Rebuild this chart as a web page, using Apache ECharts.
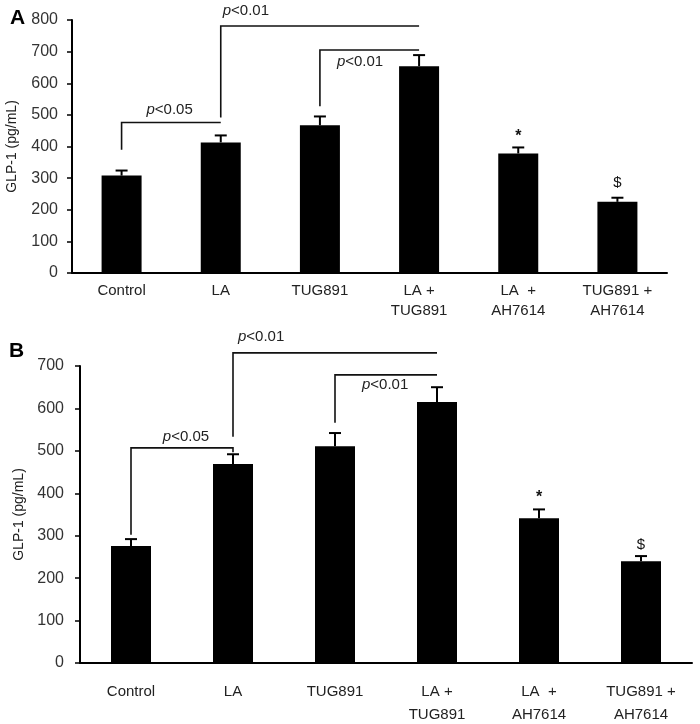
<!DOCTYPE html>
<html>
<head>
<meta charset="utf-8">
<script src="https://cdn.jsdelivr.net/npm/echarts@6/dist/echarts.min.js"></script>
<style>html,body{margin:0;padding:0;background:#fff}#c{width:700px;height:724px}</style>
</head>
<body>
<div id="c"></div>
<script>
// ---- data ----
const categories = ['Control', 'LA', 'TUG891', 'LA +\nTUG891', 'LA  +\nAH7614', 'TUG891 +\nAH7614'];
const glpA = [308, 413, 467, 654, 378, 225];
const errA = [16, 22, 28, 35, 19, 13];
const glpB = [276, 469, 511, 615, 341, 240];
const errB = [16, 23, 31, 35, 21, 12];
const yTicksA = { min: 0, max: 800, interval: 100 };
const yTicksB = { min: 0, max: 700, interval: 100 };
const yTitle = 'GLP-1 (pg/mL)';
// brackets: [fromCat, toCat, topValue, leftDropValue, rightDropValue]
const bracketsA = [[0, 1, 476, 390, null], [1, 3, 781, 492, null], [2, 3, 705, 527, null]];
const bracketsB = [[0, 1, 507, 302, 497], [1, 3, 731, 533, null], [2, 3, 679, 566, null]];
// p-value labels: [cat, value, text, dx, align]
const pLabelsA = [[0, 517, '<0.05', 48, 'center'], [1, 828, '<0.01', 2, 'left'], [2, 667, '<0.01', 17, 'left']];
const pLabelsB = [[0, 533, '<0.05', 55, 'center'], [1, 768, '<0.01', 5, 'left'], [2, 655, '<0.01', 27, 'left']];
// significance symbols: [cat, value, symbol]
const marksA = [[4, 432, '*'], [5, 286, '$']];
const marksB = [[4, 389, '*'], [5, 278, '$']];

const FONT = '"Liberation Sans", Arial, sans-serif';

function errSeries(idx, means, errs) {
  return {
    type: 'custom', xAxisIndex: idx, yAxisIndex: idx, z: 5,
    data: means.map((m, i) => [i, m, errs[i]]),
    renderItem: function (params, api) {
      const i = api.value(0), m = api.value(1), e = api.value(2);
      const p0 = api.coord([i, m]);
      const p1 = api.coord([i, m + e]);
      const cap = 6;
      return {
        type: 'group',
        children: [
          { type: 'line', shape: { x1: p0[0], y1: p0[1], x2: p1[0], y2: p1[1] }, style: { stroke: '#000', lineWidth: 2 } },
          { type: 'line', shape: { x1: p1[0] - cap, y1: p1[1], x2: p1[0] + cap, y2: p1[1] }, style: { stroke: '#000', lineWidth: 2 } }
        ]
      };
    }
  };
}

function bracketSeries(idx, brackets) {
  return {
    type: 'custom', xAxisIndex: idx, yAxisIndex: idx, z: 6, clip: false,
    data: brackets.map((b, k) => [k]),
    renderItem: function (params, api) {
      const b = brackets[params.dataIndex];
      const pts = [];
      pts.push(api.coord([b[0], b[3]]));
      pts.push(api.coord([b[0], b[2]]));
      pts.push(api.coord([b[1], b[2]]));
      if (b[4] !== null) pts.push(api.coord([b[1], b[4]]));
      return { type: 'polyline', shape: { points: pts }, style: { stroke: '#111', lineWidth: 1.6, fill: null } };
    }
  };
}

function textSeries(idx, labels, marks) {
  const items = labels.map(l => ({ kind: 'p', d: l })).concat(marks.map(m => ({ kind: 'm', d: m })));
  return {
    type: 'custom', xAxisIndex: idx, yAxisIndex: idx, z: 7, clip: false,
    data: items.map((it, k) => [k]),
    renderItem: function (params, api) {
      const it = items[params.dataIndex];
      const d = it.d;
      const p = api.coord([d[0], d[1]]);
      if (it.kind === 'p') {
        return {
          type: 'text', x: p[0] + d[3], y: p[1],
          style: {
            text: '{i|p}{n|' + d[2] + '}', align: d[4], verticalAlign: 'middle',
            rich: {
              i: { fontStyle: 'italic', fontSize: 15, fontFamily: FONT, fill: '#222' },
              n: { fontSize: 15, fontFamily: FONT, fill: '#222' }
            }
          }
        };
      }
      return {
        type: 'text', x: p[0], y: p[1],
        style: { text: d[2], align: 'center', verticalAlign: 'middle', fontSize: d[2] === '*' ? 16 : 15, fontWeight: d[2] === '*' ? 'bold' : 'normal', fontFamily: FONT, fill: '#111' }
      };
    }
  };
}

function xAxis(idx, margin, lh) {
  return {
    type: 'category', gridIndex: idx, data: categories,
    axisLine: { lineStyle: { color: '#000', width: 2 } },
    axisTick: { show: false },
    axisLabel: { interval: 0, color: '#222', fontSize: 15, fontFamily: FONT, margin: margin, lineHeight: lh }
  };
}
function yAxis(idx, t, gap, margin) {
  return {
    type: 'value', gridIndex: idx, min: t.min, max: t.max, interval: t.interval,
    name: yTitle, nameLocation: 'middle', nameGap: gap,
    nameTextStyle: { fontSize: 14, fontFamily: FONT, color: '#222' },
    axisLine: { show: true, lineStyle: { color: '#000', width: 2 } },
    axisTick: { show: true, length: 5, lineStyle: { color: '#000', width: 1.5 } },
    splitLine: { show: false },
    axisLabel: { color: '#333', fontSize: 16, fontFamily: FONT, margin: margin }
  };
}

const chart = echarts.init(document.getElementById('c'), null, { renderer: 'canvas' });
chart.setOption({
  animation: false,
  backgroundColor: '#fff',
  title: [
    { text: 'A', left: 5, top: 3, textStyle: { fontSize: 21, fontWeight: 'bold', fontFamily: FONT, color: '#000' } },
    { text: 'B', left: 4, top: 336, textStyle: { fontSize: 21, fontWeight: 'bold', fontFamily: FONT, color: '#000' } }
  ],
  grid: [
    { left: 72, top: 20, width: 595, height: 253, containLabel: false, outerBoundsMode: 'none' },
    { left: 80, top: 366, width: 612, height: 297, containLabel: false, outerBoundsMode: 'none' }
  ],
  xAxis: [xAxis(0, 8, 20), xAxis(1, 17, 23)],
  yAxis: [yAxis(0, yTicksA, 53, 14), yAxis(1, yTicksB, 51, 16)],
  series: [
    { type: 'bar', xAxisIndex: 0, yAxisIndex: 0, data: glpA, barWidth: 40, itemStyle: { color: '#000' } },
    { type: 'bar', xAxisIndex: 1, yAxisIndex: 1, data: glpB, barWidth: 40, itemStyle: { color: '#000' } },
    errSeries(0, glpA, errA),
    errSeries(1, glpB, errB),
    bracketSeries(0, bracketsA),
    bracketSeries(1, bracketsB),
    textSeries(0, pLabelsA, marksA),
    textSeries(1, pLabelsB, marksB)
  ]
});
</script>
</body>
</html>
